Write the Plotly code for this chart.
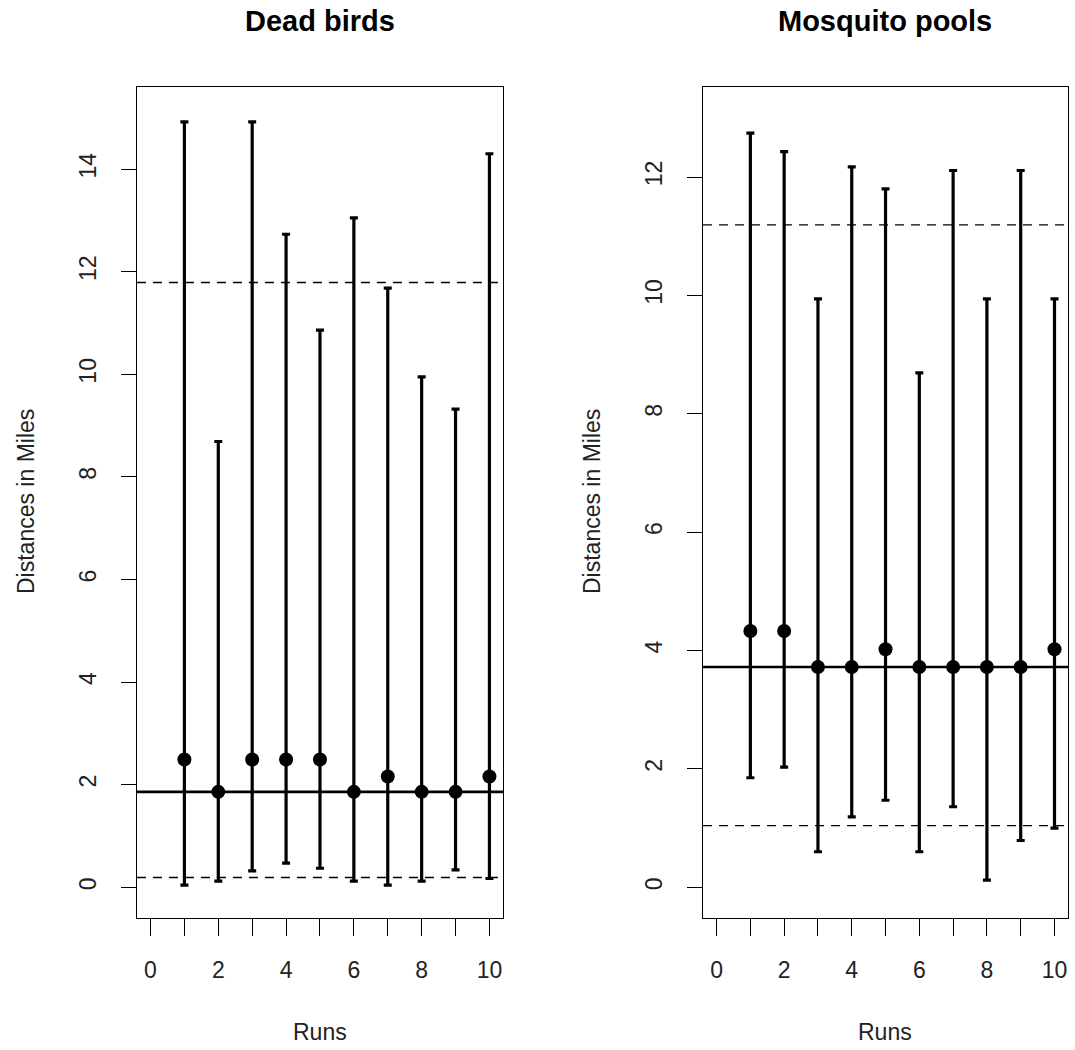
import plotly.graph_objects as go

runs = list(range(1, 11))
x_tickvals = list(range(0, 11))
x_ticktext = ["0", "", "2", "", "4", "", "6", "", "8", "", "10"]

birds_est = [2.49, 1.86, 2.49, 2.49, 2.49, 1.86, 2.16, 1.86, 1.86, 2.16]
birds_upper = [14.92, 8.69, 14.92, 12.73, 10.86, 13.05, 11.68, 9.95, 9.32, 14.30]
birds_lower = [0.04, 0.12, 0.32, 0.47, 0.37, 0.12, 0.04, 0.12, 0.34, 0.17]
birds_true = 1.86
birds_band = [0.19, 11.79]

mosq_est = [4.33, 4.33, 3.72, 3.72, 4.02, 3.72, 3.72, 3.72, 3.72, 4.02]
mosq_upper = [12.74, 12.43, 9.94, 12.17, 11.80, 8.69, 12.11, 9.94, 12.11, 9.94]
mosq_lower = [1.85, 2.03, 0.60, 1.19, 1.47, 0.60, 1.36, 0.12, 0.79, 1.00]
mosq_true = 3.72
mosq_band = [1.04, 11.19]

FONT = "Liberation Sans, Arial, sans-serif"

fig = go.Figure()

def add_panel(est, upper, lower, xa, ya):
    plus = [u - e for u, e in zip(upper, est)]
    minus = [e - l for e, l in zip(est, lower)]
    fig.add_trace(go.Scatter(
        x=runs, y=est, mode="markers", xaxis=xa, yaxis=ya,
        marker=dict(color="black", size=14),
        error_y=dict(type="data", symmetric=False, array=plus, arrayminus=minus,
                     color="black", thickness=3.2, width=4),
        showlegend=False, hoverinfo="skip"))

add_panel(birds_est, birds_upper, birds_lower, "x", "y")
add_panel(mosq_est, mosq_upper, mosq_lower, "x2", "y2")

def hlines(true_val, band, xa, ya):
    fig.add_shape(type="line", xref=f"{xa} domain", yref=ya, x0=0, x1=1,
                  y0=true_val, y1=true_val, line=dict(color="black", width=2.6))
    for b in band:
        fig.add_shape(type="line", xref=f"{xa} domain", yref=ya, x0=0, x1=1,
                      y0=b, y1=b, line=dict(color="black", width=1.3, dash="9px,7px"))

hlines(birds_true, birds_band, "x", "y")
hlines(mosq_true, mosq_band, "x2", "y2")

xcommon = dict(range=[-0.4, 10.4], tickvals=x_tickvals, ticktext=x_ticktext,
               ticks="outside", ticklen=17, tickwidth=1, tickcolor="black",
               showline=True, linecolor="black", linewidth=1, mirror=True,
               showgrid=False, zeroline=False, ticklabelstandoff=14,
               tickfont=dict(family=FONT, size=23, color="#222"))
ycommon = dict(ticks="outside", ticklen=15, tickwidth=1, tickcolor="black",
               showline=True, linecolor="black", linewidth=1, mirror=True,
               showgrid=False, zeroline=False, tickangle=-90, ticklabelstandoff=16,
               tickfont=dict(family=FONT, size=23, color="#222"))

fig.update_layout(
    width=1075, height=1050,
    margin=dict(l=0, r=0, t=0, b=0),
    paper_bgcolor="white", plot_bgcolor="white",
    xaxis=dict(domain=[0.1274, 0.4679], anchor="y", **xcommon),
    yaxis=dict(domain=[0.1257, 0.9171], anchor="x", range=[-0.6, 15.6],
               tickvals=[0, 2, 4, 6, 8, 10, 12, 14], **ycommon),
    xaxis2=dict(domain=[0.654, 0.9935], anchor="y2", **xcommon),
    yaxis2=dict(domain=[0.1257, 0.9171], anchor="x2", range=[-0.52, 13.52],
                tickvals=[0, 2, 4, 6, 8, 10, 12], **ycommon),
)

annots = [
    dict(text="<b>Dead birds</b>", x=320 / 1075, y=1 - 21 / 1050, size=29),
    dict(text="<b>Mosquito pools</b>", x=885 / 1075, y=1 - 21 / 1050, size=29),
    dict(text="Runs", x=320 / 1075, y=1 - 1032 / 1050, size=23),
    dict(text="Runs", x=885 / 1075, y=1 - 1032 / 1050, size=23),
]
for a in annots:
    fig.add_annotation(text=a["text"], x=a["x"], y=a["y"], xref="paper", yref="paper",
                       xanchor="center", yanchor="middle", showarrow=False,
                       font=dict(family=FONT, size=a["size"], color="black" if "<b>" in a["text"] else "#222"))
for xp in [26, 592]:
    fig.add_annotation(text="Distances in Miles", x=xp / 1075, y=1 - 502 / 1050,
                       xref="paper", yref="paper", xanchor="center", yanchor="middle",
                       showarrow=False, textangle=-90,
                       font=dict(family=FONT, size=23, color="#222"))

fig.write_html("out.html")
